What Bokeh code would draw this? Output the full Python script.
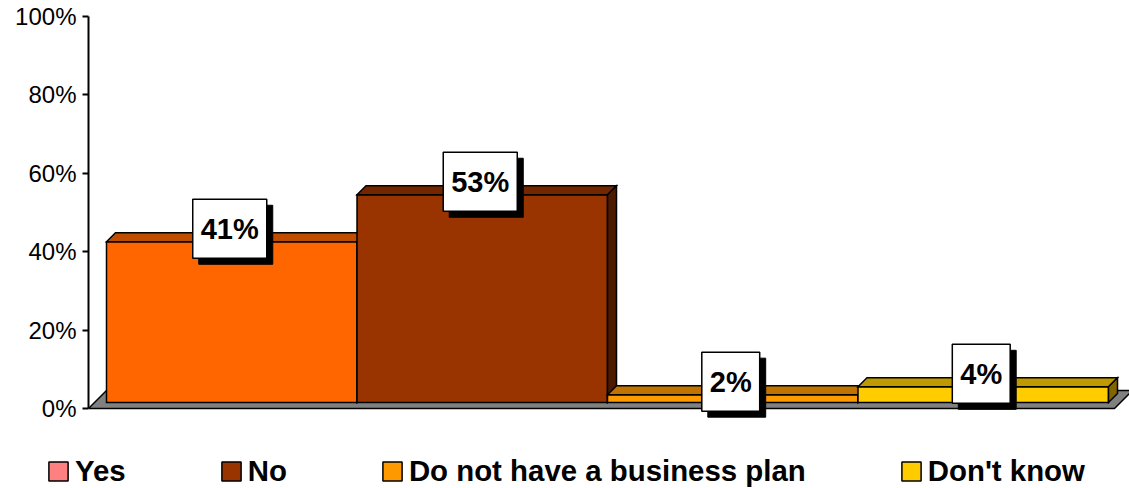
from bokeh.plotting import figure
from bokeh.layouts import column
from bokeh.models import Range1d, FixedTicker, Legend, LegendItem, ColumnDataSource
from bokeh.embed import file_html
from bokeh.resources import INLINE
from bokeh.core.properties import value

# ---------------- data ----------------
categories = ["Yes", "No", "Do not have a business plan", "Don't know"]
values = [41, 53, 2, 4]
bar_colors = ["#FF6600", "#993300", "#FF9900", "#FFCC00"]
top_colors = ["#C04C00", "#732600", "#C07300", "#C09900"]
side_colors = ["#803300", "#4D1A00", "#804D00", "#806600"]
legend_colors = ["#FF8080", "#993300", "#FF9900", "#FFCC00"]
y_ticks = [0, 20, 40, 60, 80, 100]
y_tick_labels = ["0%", "20%", "40%", "60%", "80%", "100%"]
data_labels = [f"{v}%" for v in values]

# ---------------- geometry (pixels -> data) ----------------
W = 1129
H_CHART = 440
H_LEG = 48
LEFT = 88
PX_X = 250.5          # px per category
PX_Y = 3.92           # px per percent
frame_w = W - LEFT
x_start = -18 / PX_X
x_end = x_start + frame_w / PX_X
y_end = 100 + 16 / PX_Y
y_start = y_end - H_CHART / PX_Y

fdx, fdy = 18 / PX_X, 18 / PX_Y     # floor depth
off_y = 6 / PX_Y                     # bar front offset above floor front
bdx, bdy = 9 / PX_X, 9 / PX_Y        # bar depth

p = figure(width=W, height=H_CHART, output_backend="svg", toolbar_location=None,
           x_range=Range1d(x_start, x_end), y_range=Range1d(y_start, y_end),
           x_axis_location=None, y_axis_location="left",
           min_border_left=LEFT, min_border_right=0, min_border_top=0, min_border_bottom=0)
p.grid.visible = False
p.outline_line_color = None
p.background_fill_color = "white"
p.border_fill_color = "white"

# y axis
ax = p.yaxis[0]
ax.ticker = FixedTicker(ticks=y_ticks)
ax.major_label_overrides = {t: l for t, l in zip(y_ticks, y_tick_labels)}
ax.bounds = (0, 100)
ax.minor_tick_line_color = None
ax.major_tick_in = 0
ax.major_tick_out = 6
ax.major_label_standoff = 6
ax.axis_line_width = 2
ax.major_tick_line_width = 2
ax.axis_line_color = "black"
ax.major_tick_line_color = "black"
ax.major_label_text_font = "Liberation Sans"
ax.major_label_text_font_size = "24px"
ax.major_label_text_color = "black"

# floor
n = len(values)
floor_x0 = x_start
floor_x1 = n + 6 / PX_X
p.patch(x=[floor_x0, floor_x1, floor_x1 + fdx, floor_x0 + fdx],
        y=[0, 0, fdy, fdy], fill_color="#808080", line_color="black", line_width=1.5)

# bars (front, top, side for each bar, drawn left to right)
xs, ys, fills = [], [], []
for i, v in enumerate(values):
    l, r = i, i + 1
    b, t = off_y, off_y + v
    xs.append([l, r, r, l]); ys.append([b, b, t, t]); fills.append(bar_colors[i])
    xs.append([l, r, r + bdx, l + bdx]); ys.append([t, t, t + bdy, t + bdy]); fills.append(top_colors[i])
    xs.append([r, r + bdx, r + bdx, r]); ys.append([b, b + bdy, t + bdy, t]); fills.append(side_colors[i])
src = ColumnDataSource(dict(xs=xs, ys=ys, fill=fills))
p.patches(xs="xs", ys="ys", fill_color="fill", line_color="black", line_width=1.5,
          line_join="miter", source=src)

# data labels
FS = 29
lx = [i + 0.5 - 2 / PX_X for i in range(n)]
ly = [v + off_y + 13 / PX_Y for v in values]
box_w = [16 + FS * (0.556 * (len(s) - 1) + 0.889) for s in data_labels]
lsrc = ColumnDataSource(dict(x=lx, y=ly, sx=[x + 6 / PX_X for x in lx],
                             sy=[y - 6 / PX_Y for y in ly], w=box_w, text=data_labels))
p.rect(x="sx", y="sy", width="w", height=59, width_units="screen", height_units="screen",
       fill_color="black", line_color="black", source=lsrc)
p.rect(x="x", y="y", width="w", height=59, width_units="screen", height_units="screen",
       fill_color="white", line_color="black", line_width=1.5, source=lsrc)
p.text(x="x", y="y", text="text", text_font=value("Liberation Sans"), text_font_style="bold",
       text_font_size=f"{FS}px", text_align="center", text_baseline="middle",
       text_color="black", source=lsrc)

# legend figure (swatch colours as shown in the legend)
pl = figure(width=W, height=H_LEG, output_backend="svg", toolbar_location=None,
            x_range=Range1d(0, 1), y_range=Range1d(0, 1),
            x_axis_location=None, y_axis_location=None,
            min_border_left=0, min_border_right=0, min_border_top=0, min_border_bottom=0)
pl.grid.visible = False
pl.outline_line_color = None
pl.background_fill_color = "white"
pl.border_fill_color = "white"

leg_x = 46
try:
    p.frame_align = False
    pl.frame_align = False
except Exception:
    leg_x = 46 - LEFT

items = []
for name, c in zip(categories, legend_colors):
    r = pl.quad(left=[-10], right=[-9], top=[-9], bottom=[-10], fill_color=c,
                line_color="black", line_width=1.5)
    items.append(LegendItem(label=name, renderers=[r]))
legend = Legend(items=items, orientation="horizontal", location=(leg_x, 0),
                glyph_width=24, glyph_height=24, label_standoff=5, spacing=93,
                padding=0, margin=0, border_line_color=None, background_fill_alpha=0,
                label_text_font="Liberation Sans", label_text_font_style="bold",
                label_text_font_size="29.4px", label_text_color="black")
pl.add_layout(legend)

layout = column(p, pl, spacing=0)
open("out.html", "w").write(file_html(layout, INLINE))
